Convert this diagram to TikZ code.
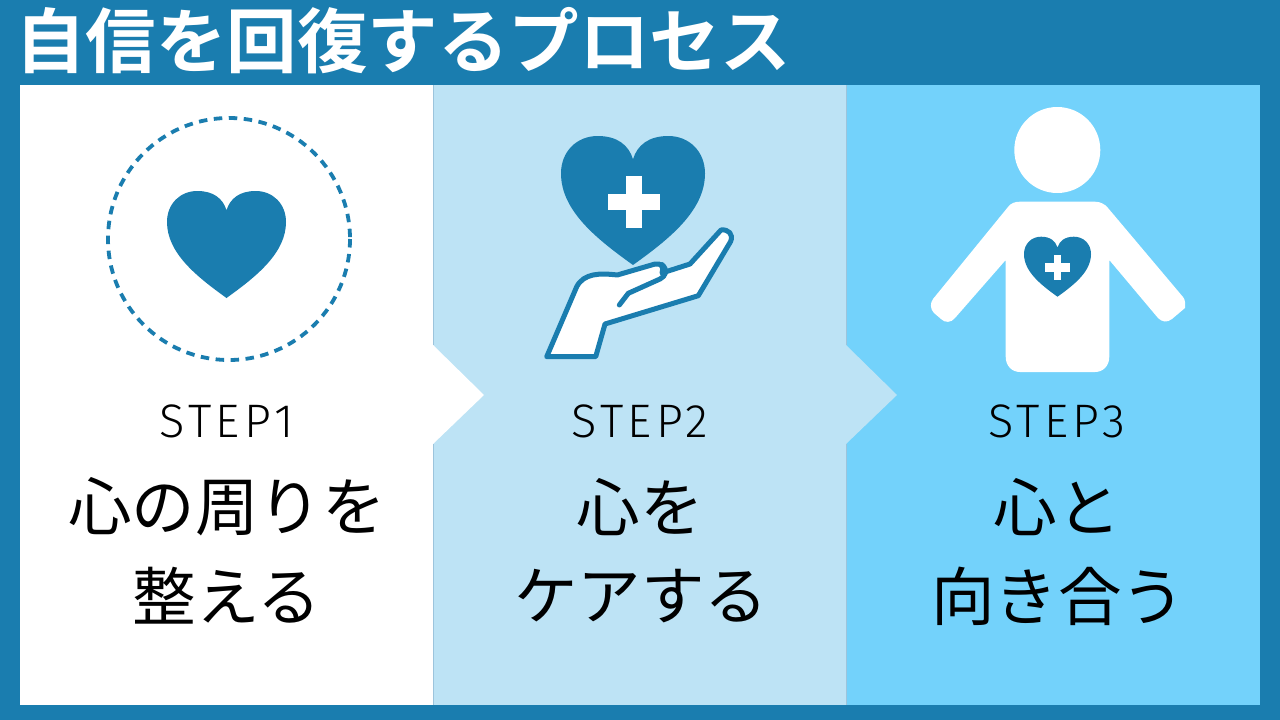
\documentclass[tikz,border=0pt]{standalone}
\usepackage{fontspec}
\newfontfamily\jp{Noto Sans CJK JP}
\newfontfamily\jpb{Noto Sans CJK JP Bold}
\newfontfamily\stepfont[LetterSpace=9]{Fira Sans Light}
\definecolor{frame}{HTML}{1A7DAF}
\definecolor{panelb}{HTML}{BDE3F5}
\definecolor{panelc}{HTML}{73D2FB}
\definecolor{seam}{HTML}{9CC4DC}
\newcommand{\heartshape}[5]{% fill, cx, top, half width, height
  \fill[#1,shift={(#2,#3)},xscale=#4,yscale=#5] (0,1)
    .. controls (-0.5,0.8) and (-1,0.58) .. (-1,0.29)
    .. controls (-1,0.12) and (-0.78,0) .. (-0.49,0)
    .. controls (-0.22,0) and (-0.06,0.07) .. (0,0.18)
    .. controls (0.06,0.07) and (0.22,0) .. (0.49,0)
    .. controls (0.78,0) and (1,0.12) .. (1,0.29)
    .. controls (1,0.58) and (0.5,0.8) .. (0,1) -- cycle;}
\tikzset{
  steplabel/.style={font=\stepfont\fontsize{47}{47}\selectfont,text=black,inner sep=0pt,anchor=center},
  jplabel/.style={font=\jp\fontsize{63.5}{63.5}\selectfont,text=black,inner sep=0pt,anchor=center},
  titlelabel/.style={font=\jpb\fontsize{70.5}{70.5}\selectfont,text=white,inner sep=0pt,anchor=west},
}
\begin{document}
\begin{tikzpicture}[x=1pt,y=-1pt]
\useasboundingbox (0,0) rectangle (1280,720);
\fill[frame] (0,0) rectangle (1280,720);
\fill[white] (20,85) rectangle (433,705);
\fill[panelb] (433,85) rectangle (846,705);
\fill[panelc] (846,85) rectangle (1260,705);
\draw[seam,line width=0.8] (433,85) -- (433,345) (433,444) -- (433,705);
\draw[seam,line width=0.8] (846,85) -- (846,345) (846,444) -- (846,705);
\fill[white] (433,345) -- (484,395) -- (433,444) -- cycle;
\fill[panelb] (846,345) -- (897,395) -- (846,444) -- cycle;
% step 1
\draw[frame,line width=3.8,dash pattern=on 8.5 off 6.5] (229,239) circle (121);
\heartshape{frame}{226.5}{191}{59.5}{107}
% step 2
\heartshape{frame}{633}{136}{72}{129}
\fill[white] (607.7,194.3) rectangle (660,210);
\fill[white] (626,176) rectangle (642,228.3);
\draw[frame,fill=white,line width=5,line join=round,line cap=round]
  (546.7,356.7) -- (595.7,356.7) -- (605,324) -- (698.3,295.7) -- (730.5,241.7)
  .. controls (734,234) and (728,229) .. (721,230)
  -- (690,264) -- (662,273)
  .. controls (664,266) and (661,263) .. (655,264)
  -- (617.3,275)
  .. controls (600,273) and (584,273) .. (576.7,286.7) -- cycle;
\draw[frame,line width=5,line join=round,line cap=round]
  (662,264.5) .. controls (668,270) and (666,276) .. (660,279)
  -- (628.3,293.3) -- (619.3,305);
% step 3
\fill[white] (1057.3,150) circle (43);
\fill[white] (1020,201.7) -- (1095,201.7)
  .. controls (1100,201.7) and (1105,204) .. (1108,208)
  -- (1183,297) .. controls (1184,298.5) and (1185,300) .. (1185,302)
  -- (1185,308) -- (1172,319) .. controls (1167,323) and (1162,322) .. (1158,318)
  -- (1109.3,260) -- (1109.3,356.7)
  .. controls (1109.3,366) and (1103,372) .. (1095,372)
  -- (1020,372) .. controls (1012,372) and (1005.7,366) .. (1005.7,356.7)
  -- (1005.7,260) -- (955,318) .. controls (951,323) and (945,323) .. (941,319)
  -- (934,313) .. controls (930,309) and (930,303) .. (933,299)
  -- (1008,207) .. controls (1011,203) and (1015,201.7) .. (1020,201.7) -- cycle;
\heartshape{frame}{1057.5}{236.7}{33.5}{60}
\fill[white] (1045,263.3) rectangle (1070,271.7);
\fill[white] (1054,255) rectangle (1061,280);
% text
\node[titlelabel] (title) at (15,41) {自信を回復するプロセス};
\node[steplabel] (s1) at (227,421) {STEP1};
\node[steplabel] (s2) at (640,421) {STEP2};
\node[steplabel] (s3) at (1057,421) {STEP3};
\node[jplabel] (a1) at (227,507) {心の周りを};
\node[jplabel] (a2) at (227,596) {整える};
\node[jplabel] (b1) at (640,507) {心を};
\node[jplabel] (b2) at (641,596) {ケアする};
\node[jplabel] (c1) at (1057,507) {心と};
\node[jplabel] (c2) at (1058,596) {向き合う};
\end{tikzpicture}
\end{document}
